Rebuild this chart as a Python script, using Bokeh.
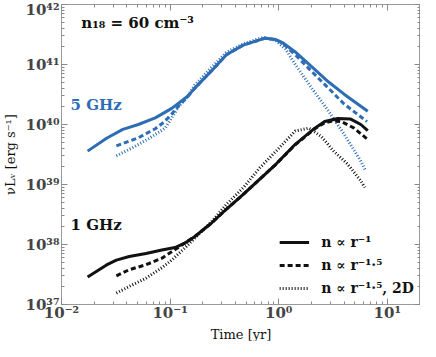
from bokeh.plotting import figure
from bokeh.models import (Label, Legend, LegendItem, LogAxis, LogTicker,
                          CustomJSTickFormatter, Title)
from bokeh.embed import file_html
from bokeh.resources import INLINE

# ---- data (time in yr, nu L_nu in erg/s) ----
t_5_s = [0.0174, 0.026, 0.0367, 0.051, 0.073, 0.1035, 0.145, 0.168, 0.24, 0.33,
         0.47, 0.68, 0.75, 0.94, 1.09, 1.42, 2.02, 2.88, 4.0, 6.6]
L_5_s = [3.6e39, 5.9e39, 8.3e39, 1.0e40, 1.29e40, 1.86e40, 2.95e40, 4.0e40, 7.8e40, 1.45e41,
         2.1e41, 2.6e41, 2.75e41, 2.6e41, 2.3e41, 1.62e41, 9.1e40, 5.1e40, 3.2e40, 1.66e40]

t_5_d = [0.032, 0.051, 0.073, 0.088, 0.1035, 0.12, 0.145, 0.168, 0.24, 0.33, 0.47, 0.68,
         0.75, 0.94, 1.09, 1.42, 2.02, 2.88, 4.0, 6.5]
L_5_d = [4.4e39, 6.0e39, 8.5e39, 1.1e40, 1.5e40, 2.05e40, 2.9e40, 4.0e40, 7.8e40, 1.45e41, 2.1e41, 2.6e41,
         2.75e41, 2.6e41, 2.25e41, 1.45e41, 7.6e40, 4.0e40, 2.2e40, 1.12e40]

t_5_2d = [0.032, 0.045, 0.063, 0.09, 0.1035, 0.12, 0.145, 0.168, 0.24, 0.33, 0.47, 0.68,
          0.75, 0.94, 1.16, 1.42, 2.02, 2.88, 4.0, 5.7, 6.3]
L_5_2d = [3.0e39, 4.1e39, 5.75e39, 8.7e39, 1.3e40, 2.0e40, 2.95e40, 4.5e40, 8.9e40, 1.6e41, 2.2e41, 2.75e41,
          2.8e41, 2.5e41, 1.8e41, 1.0e41, 4.0e40, 1.66e40, 6.9e39, 2.45e39, 1.7e39]

t_1_s = [0.0174, 0.026, 0.032, 0.042, 0.06, 0.084, 0.111, 0.136, 0.168, 0.238, 0.335,
         0.474, 0.67, 0.946, 1.42, 2.15, 2.65, 3.5, 4.6, 5.7, 6.6]
L_1_s = [2.88e37, 4.57e37, 5.5e37, 6.3e37, 7.1e37, 8.1e37, 8.9e37, 1.05e38, 1.35e38, 2.24e38, 3.98e38,
         6.9e38, 1.23e39, 2.19e39, 4.68e39, 8.7e39, 1.12e40, 1.26e40, 1.23e40, 1.0e40, 7.9e39]

t_1_d = [0.032, 0.042, 0.06, 0.084, 0.1035, 0.136, 0.168, 0.238, 0.335, 0.474, 0.67,
         0.946, 1.42, 2.15, 2.65, 3.2, 3.78, 4.94, 6.5]
L_1_d = [3.0e37, 3.8e37, 4.6e37, 5.9e37, 7.6e37, 1.05e38, 1.35e38, 2.24e38, 3.98e38, 6.9e38, 1.23e39,
         2.19e39, 4.6e39, 8.5e39, 1.07e40, 1.15e40, 1.12e40, 8.7e39, 5.75e39]

t_1_2d = [0.032, 0.042, 0.06, 0.084, 0.1035, 0.136, 0.168, 0.238, 0.335, 0.474, 0.67,
          0.946, 1.42, 1.9, 2.47, 3.2, 4.3, 5.7, 6.2]
L_1_2d = [1.55e37, 2.0e37, 2.75e37, 4.1e37, 5.5e37, 8.7e37, 1.26e38, 2.34e38, 4.8e38, 8.9e38, 1.9e39,
          3.6e39, 7.8e39, 8.7e39, 6.3e39, 3.6e39, 2.2e39, 1.15e39, 8.9e38]

legend_labels = ["n \u221d r\u207b\u00b9", "n \u221d r\u207b\u00b9\u00b7\u2075",
                 "n \u221d r\u207b\u00b9\u00b7\u2075, 2D"]

BLUE = "#2d6db4"
BLACK = "#111111"
SERIF = "DejaVu Serif"

p = figure(width=420, height=341, x_axis_type="log", y_axis_type="log",
           x_range=(0.01, 20.2), y_range=(1e37, 1e42),
           output_backend="svg", toolbar_location=None,
           min_border_left=56, min_border_right=0, min_border_top=4, min_border_bottom=0)
p.grid.visible = False
p.outline_line_color = "#9a9a9a"
p.background_fill_color = "white"
p.border_fill_color = "white"

sup_code = """
const sup = {'-':'\u207b','0':'\u2070','1':'\u00b9','2':'\u00b2','3':'\u00b3','4':'\u2074',
             '5':'\u2075','6':'\u2076','7':'\u2077','8':'\u2078','9':'\u2079'};
const e = Math.round(Math.log10(tick));
return '10' + String(e).split('').map(c => sup[c]).join('');
"""

def style_axis(ax, labels=True):
    ax.ticker = LogTicker(num_minor_ticks=10, mantissas=[1])
    ax.major_tick_in = 6
    ax.major_tick_out = 0
    ax.minor_tick_in = 3
    ax.minor_tick_out = 0
    ax.major_tick_line_color = "#8a8a8a"
    ax.minor_tick_line_color = "#8a8a8a"
    ax.axis_line_color = None
    if labels:
        ax.formatter = CustomJSTickFormatter(code=sup_code)
        ax.major_label_text_font = SERIF
        ax.major_label_text_font_style = "bold"
        ax.major_label_text_font_size = "15px"
        ax.major_label_text_color = "#444444"
        ax.major_label_standoff = 2
        ax.axis_label_text_font = SERIF
        ax.axis_label_text_font_style = "normal"
        ax.axis_label_text_font_size = "13px"
        ax.axis_label_text_color = "#111111"
        ax.axis_label_standoff = 2
    else:
        ax.formatter = CustomJSTickFormatter(code="return ''")
        ax.major_label_standoff = 0
        ax.major_label_text_font_size = "0px"

style_axis(p.xaxis[0])
style_axis(p.yaxis[0])
p.xaxis[0].major_label_standoff = -1
p.yaxis[0].axis_label = "\u03bdL\u1d65 [erg s\u207b\u00b9]"
p.yaxis[0].axis_label_standoff = 4

# x-axis title as a below-panel title
p.add_layout(Title(text="Time [yr]", align="center", text_font=SERIF,
                   text_font_style="normal", text_font_size="13px",
                   text_color=BLACK, standoff=0, offset=0), "below")

ax_r = LogAxis()
style_axis(ax_r, labels=False)
p.add_layout(ax_r, "right")
ax_t = LogAxis()
style_axis(ax_t, labels=False)
p.add_layout(ax_t, "above")

LW = 3
p.line(t_5_s, L_5_s, line_color=BLUE, line_width=LW)
p.line(t_5_d, L_5_d, line_color=BLUE, line_width=LW, line_dash="5 3")
p.line(t_5_2d, L_5_2d, line_color=BLUE, line_width=LW, line_dash="1 2")
r1 = p.line(t_1_s, L_1_s, line_color=BLACK, line_width=LW)
r2 = p.line(t_1_d, L_1_d, line_color=BLACK, line_width=LW, line_dash="5 3")
r3 = p.line(t_1_2d, L_1_2d, line_color=BLACK, line_width=LW, line_dash="1 2")

legend = Legend(items=[LegendItem(label=legend_labels[0], renderers=[r1]),
                       LegendItem(label=legend_labels[1], renderers=[r2]),
                       LegendItem(label=legend_labels[2], renderers=[r3])],
                location="bottom_right")
legend.background_fill_alpha = 0
legend.border_line_color = None
legend.label_text_font = SERIF
legend.label_text_font_style = "bold"
legend.label_text_font_size = "14px"
legend.label_text_color = "#111111"
legend.glyph_width = 30
legend.glyph_height = 20
legend.label_height = 20
legend.spacing = 3
legend.margin = 6
legend.padding = 4
legend.label_standoff = 12
p.add_layout(legend, "center")

p.add_layout(Label(x=0.0152, y=4.9e41, text="n\u2081\u2088 = 60 cm\u207b\u00b3",
                   text_font=SERIF, text_font_style="bold", text_font_size="15px",
                   text_color=BLACK, text_baseline="middle"))
p.add_layout(Label(x=0.0121, y=2.15e40, text="5 GHz", text_font=SERIF,
                   text_font_style="bold", text_font_size="15px",
                   text_color=BLUE, text_baseline="middle"))
p.add_layout(Label(x=0.0121, y=2.1e38, text="1 GHz", text_font=SERIF,
                   text_font_style="bold", text_font_size="15px",
                   text_color=BLACK, text_baseline="middle"))

open("out.html", "w").write(file_html(p, INLINE))
